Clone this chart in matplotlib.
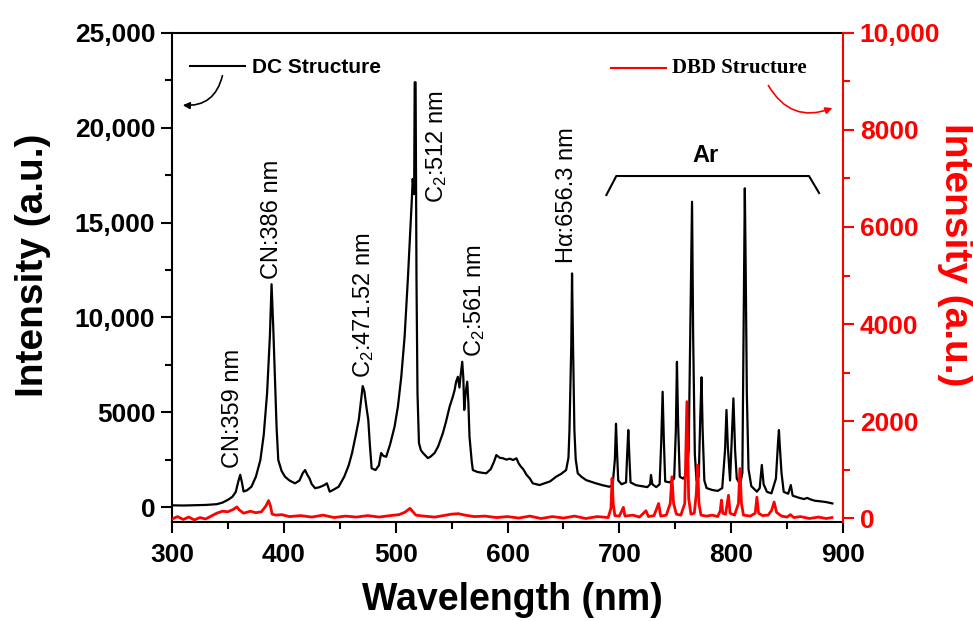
import matplotlib
matplotlib.use("Agg")
import matplotlib.pyplot as plt
from matplotlib.ticker import FixedLocator, MultipleLocator

plt.rcParams['font.family'] = ['Liberation Sans', 'DejaVu Sans']
plt.rcParams['mathtext.fontset'] = 'custom'
plt.rcParams['mathtext.rm'] = 'Liberation Sans'
plt.rcParams['mathtext.it'] = 'Liberation Sans:italic'

# DC structure spectrum (left axis)
dc_nm = [300, 310, 320, 330, 340, 345, 350, 354, 357, 359.5, 361, 362.5, 364, 367, 371,
         375, 379, 382, 385, 387.5, 389, 390.5, 392, 393.5, 395, 398, 401, 405, 410, 414,
         417, 419, 421, 423, 425, 428, 432, 436, 438.5, 441, 444, 449, 454, 458, 461,
         464, 467, 469, 470.5, 472, 474, 475.5, 477, 478.5, 482, 485, 487, 489, 491.5,
         495, 499, 502, 505, 508, 511, 513, 514.5, 515.2, 516.5, 517, 517.8, 518.6, 519.5,
         520.8, 522.5, 524.4, 528.8, 531, 534.8, 538, 542.2, 545, 548.2, 551, 552.7, 554,
         555.6, 557, 558, 559.5, 560.5, 561.3, 562.5, 564, 565, 566, 568, 569, 573, 578,
         581, 585, 588, 590, 593, 596, 599, 602, 605, 608, 610, 612, 614, 617, 620, 622.6,
         628.6, 633, 638, 643.5, 648, 652.4, 654.5, 655.4, 657, 657.7, 658.6, 659.8, 661,
         662.8, 666, 670.3, 674, 679, 685, 691, 694, 696, 697, 698, 699, 702, 706, 707,
         708, 709, 710, 715, 720, 725, 727.5, 728.3, 729.5, 733, 736, 737.5, 738.7, 739.8,
         741, 745, 749, 750.5, 751.5, 752.5, 754, 757, 760, 762, 764, 765, 766, 767.5, 769,
         771, 772.5, 773.5, 774.5, 776, 778, 783, 788, 792, 794.5, 795.8, 797, 799, 800.5,
         802, 803.5, 805, 808, 810, 811.5, 812.2, 813, 814, 815.5, 818, 823, 825.5, 827.4,
         829, 832, 836, 840, 842, 842.7, 843.5, 845, 847, 851, 853.3, 855, 860, 865, 868,
         871, 875, 880, 885, 890.5]
dc_int = [90, 80, 95, 110, 150, 230, 380, 540, 800, 1400, 1700, 1300, 820, 880, 1070,
          1600, 2480, 3800, 6000, 9000, 11750, 9500, 6900, 4200, 2480, 1900, 1600, 1400, 1250, 1400,
          1800, 1950, 1700, 1500, 1200, 990, 1050, 1150, 1250, 810, 900, 1070, 1600, 2200, 2850,
          3700, 4600, 5600, 6380, 6100, 5200, 4590, 3200, 2040, 1950, 2200, 2850, 2700, 2650,
          3300, 4240, 5300, 6870, 9000, 12150, 14500, 16300, 17300, 16500, 22400, 22400, 12000, 6000,
          3380, 3000, 2850, 2580, 2650, 2850, 3200, 3900, 4500, 5290, 5800, 6170, 6600,
          6870, 6300, 6900, 7660, 6800, 5120, 6000, 6610, 5500, 3710, 2400, 1950, 1850, 1800,
          1780, 2000, 2400, 2740, 2600, 2570, 2500, 2550, 2480, 2570, 2300, 2130, 2000, 1700, 1500, 1250,
          1160, 1250, 1350, 1600, 1750, 1950, 2600, 4060, 8500, 12320, 8500, 4060, 2500,
          1780, 1600, 1420, 1350, 1250, 1150, 1070, 1150, 2500, 4390, 2800, 1400, 1200, 1300, 2800,
          4060, 2600, 1300, 1150, 1100, 1050, 1200, 1690, 1200, 1050, 1200, 3500, 6080, 3500,
          1350, 1300, 1500, 4000, 7660, 4500, 1600, 1500, 1700, 3000, 12000, 16100, 9000, 2800, 1400,
          1600, 5000, 6840, 4000, 1400, 1000, 900, 850, 1000, 3000, 5120, 3200, 1400, 3500,
          5730, 3000, 1500, 1200, 1800, 12000, 16810, 12500, 6000, 2000, 1100, 810, 1000, 2220,
          1200, 800, 720, 1500, 3500, 4060, 3200, 1800, 800, 700, 1160, 600, 500, 420, 480,
          400, 330, 300, 260, 190]

# DBD structure spectrum (right axis)
dbd_nm = [300, 305, 310, 315, 320, 325, 330, 335, 340, 345, 350, 355, 358, 360, 364, 370,
          375, 380, 384, 386.3, 388, 389.5, 393, 398, 405, 415, 425, 435, 445, 455, 465,
          475, 485, 495, 503, 508.3, 512.8, 515, 518, 525, 535, 545, 550, 556, 562, 570,
          580, 590, 600, 610, 620, 630, 640, 650, 660, 670, 680, 690, 692.5, 693.5, 694.5,
          696, 700, 703.6, 705, 712, 718, 723.8, 726, 731, 735.1, 737, 742, 745.5, 747,
          748.5, 751, 755, 758.5, 760.4, 762, 764, 767, 768.8, 770, 771.2, 773, 778, 783,
          788, 790.2, 791.3, 792.5, 795, 797.6, 799, 803, 806.5, 807.8, 809.2, 811, 817,
          821.5, 823, 824.5, 828, 833, 836, 838.4, 840.5, 845, 850, 853, 856, 862, 870,
          878, 885, 890]
dbd_int = [-20, 30, -30, 20, -40, 10, -20, 40, 100, 140, 130, 180, 230, 170, 100, 140,
           110, 130, 250, 360, 250, 80, 60, 70, 30, 50, 20, 60, 10, 40, 20,
           50, 20, 50, 70, 120, 200, 140, 60, 40, 20, 60, 80, 90, 60, 30,
           40, 10, 30, 0, 40, -10, 30, 0, 40, -10, 30, 10, 200, 820, 300,
           50, 40, 220, 40, 60, 20, 150, 30, 50, 300, 40, 60, 300, 850,
           300, 80, 60, 300, 2400, 400, 80, 100, 500, 1090, 300, 60, 40, 60,
           30, 150, 370, 100, 80, 470, 100, 60, 300, 1020, 300, 60, 40,
           100, 430, 100, 50, 60, 150, 330, 120, 40, 20, 70, 10, 30, -10,
           20, -10, 10]

left_ticks = [0, 5000, 10000, 15000, 20000, 25000]
left_labels = ['0', '5000', '10,000', '15,000', '20,000', '25,000']
right_ticks = [0, 2000, 4000, 6000, 8000, 10000]
right_labels = ['0', '2000', '4000', '6000', '8000', '10,000']
x_ticks = [300, 400, 500, 600, 700, 800, 900]

# peak labels: text, wavelength position, bottom of text (left-axis units)
peak_text = ['CN:359 nm', 'CN:386 nm', 'C$_2$:471.52 nm', 'C$_2$:512 nm',
             'C$_2$:561 nm', 'H\u03b1:656.3 nm']
peak_x = [354.3, 389.3, 471.4, 536.3, 570.5, 653.6]
peak_y = [2060, 12000, 6800, 16030, 7930, 12870]

fig = plt.figure(figsize=(9.73, 6.21), dpi=100)
ax = fig.add_axes([0.1768, 0.1594, 0.6896, 0.7875])
ax2 = ax.twinx()

ax.plot(dc_nm, dc_int, color='black', lw=1.6)
ax2.plot(dbd_nm, dbd_int, color='red', lw=2.0)

ax.set_xlim(300, 900)
ax.set_ylim(-790, 25000)
ax2.set_ylim(-82, 10000)

ax.xaxis.set_major_locator(FixedLocator(x_ticks))
ax.xaxis.set_minor_locator(MultipleLocator(50))
ax.yaxis.set_major_locator(FixedLocator(left_ticks))
ax.set_yticklabels(left_labels)
ax.yaxis.set_minor_locator(FixedLocator([2500, 7500, 12500, 17500, 22500]))
ax2.yaxis.set_major_locator(FixedLocator(right_ticks))
ax2.set_yticklabels(right_labels)
ax2.yaxis.set_minor_locator(FixedLocator([1000, 3000, 5000, 7000, 9000]))

for lab in ax.get_xticklabels() + ax.get_yticklabels():
    lab.set_fontsize(19)
    lab.set_fontweight('bold')
for lab in ax2.get_yticklabels():
    lab.set_fontsize(19)
    lab.set_fontweight('bold')
    lab.set_color('red')

ax.tick_params(which='major', direction='out', length=8, width=1.5, pad=4)
ax.tick_params(which='minor', direction='out', length=5, width=1.5)
ax.tick_params(axis='x', which='major', pad=7)
ax2.tick_params(which='major', direction='out', length=8, width=1.5, colors='red', pad=4)
ax2.tick_params(which='minor', direction='out', length=5, width=1.5, colors='red')

for s in ['left', 'bottom', 'top']:
    ax.spines[s].set_linewidth(1.5)
ax.spines['right'].set_visible(False)
for s in ['left', 'bottom', 'top']:
    ax2.spines[s].set_visible(False)
ax2.spines['right'].set_color('red')
ax2.spines['right'].set_linewidth(1.5)

for t, x, y in zip(peak_text, peak_x, peak_y):
    ax.text(x, y, t, rotation=90, ha='center', va='bottom', fontsize=17)

# Ar bracket
ax.plot([688.4, 697.3, 869.6, 878.6], [16455, 17457, 17457, 16560], color='black', lw=1.5)
ax.text(777, 17950, 'Ar', ha='center', va='bottom', fontsize=17, fontweight='bold')

# legend entries
ax.plot([316, 365], [23260, 23260], color='black', lw=1.5)
ax.text(371.4, 23200, 'DC Structure', ha='left', va='center', fontsize=15, fontweight='bold')
ax2.plot([692.9, 742], [9280, 9280], color='red', lw=1.5)
ax2.text(747.3, 9280, 'DBD Structure', ha='left', va='center', fontsize=15,
         fontweight='bold', family='Liberation Serif')

# curved arrows toward each axis
fig.patches.append(matplotlib.patches.FancyArrowPatch(
    (223 / 973, 1 - 73 / 621), (180 / 973, 1 - 105 / 621), transform=fig.transFigure,
    connectionstyle='arc3,rad=-0.45', arrowstyle='-|>', mutation_scale=10,
    color='black', lw=1.2))
fig.patches.append(matplotlib.patches.FancyArrowPatch(
    (767 / 973, 1 - 83 / 621), (835 / 973, 1 - 107 / 621), transform=fig.transFigure,
    connectionstyle='arc3,rad=0.45', arrowstyle='-|>', mutation_scale=10,
    color='red', lw=1.2))

fig.text(33 / 973, 1 - 265 / 621, 'Intensity (a.u.)', rotation=90, ha='center', va='center',
         fontsize=28, fontweight='bold')
fig.text(955 / 973, 1 - 255 / 621, 'Intensity (a.u.)', rotation=-90, ha='center', va='center',
         fontsize=28, fontweight='bold', color='red')
fig.text(512 / 973, 1 - 600 / 621, 'Wavelength (nm)', ha='center', va='center',
         fontsize=27, fontweight='bold')

fig.savefig('out.png', dpi=100)
